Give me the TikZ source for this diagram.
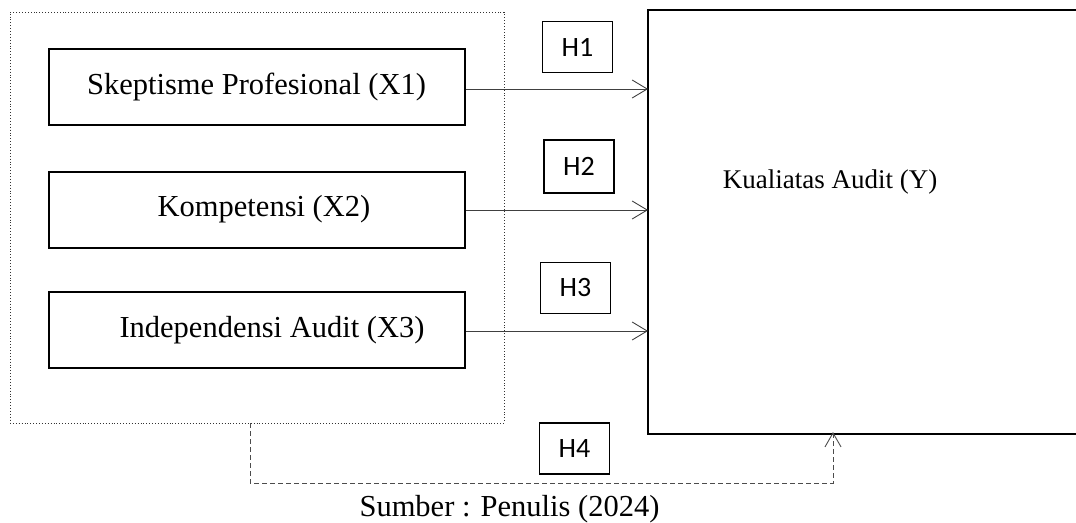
\documentclass[tikz,border=0pt]{standalone}
\usepackage{fontspec}
\setmainfont{Liberation Serif}
\newfontfamily\hfont{Carlito}
\usetikzlibrary{arrows.meta,positioning}

\tikzset{
  varbox/.style={draw, line width=2pt, minimum width=416pt, minimum height=76pt, inner sep=0pt, font=\fontsize{30.5}{36}\selectfont},
  hypbox/.style={draw, line width=1.8pt, minimum width=70pt, minimum height=51pt, inner sep=0pt, font=\hfont\fontsize{28}{32}\selectfont},
  link/.style={draw=black!75, line width=0.9pt, -{Straight Barb[length=15pt,width=18pt,line width=0.9pt]}},
  dlink/.style={draw=black!70, line width=0.9pt, dash pattern=on 5pt off 3pt, -{Straight Barb[length=14pt,width=16pt,line width=0.9pt]}}
}

\begin{document}
\begin{tikzpicture}[x=1pt,y=-1pt]
  \useasboundingbox (0,0) rectangle (1076,522);

  % Variabel independen
  \node[draw=black!80, line width=0.9pt, dotted, minimum width=494pt, minimum height=411pt, inner sep=0pt] (grp) at (257,217.5) {};
  \node[varbox] (x1) at (256.5,87) {Skeptisme Profesional (X1)};
  \node[varbox] (x2) at (257,209.5) {\hspace{14pt}Kompetensi (X2)};
  \node[varbox] (x3) at (257,330) {\hspace{30pt}Independensi Audit (X3)};

  % Variabel dependen
  \coordinate (ynw) at (648,10);
  \coordinate (ysw) at (648,434);
  \draw[line width=2.4pt] (1090,10) -- (ynw) -- (ysw) -- (1090,434);
  \node[font=\fontsize{27}{32}\selectfont, anchor=base] (y) at (830,188) {Kualiatas Audit (Y)};

  % Hipotesis
  \node[hypbox] (h1) at (577.5,47) {H1};
  \node[hypbox, minimum height=53pt] (h2) at (579,166.5) {H2};
  \node[hypbox] (h3) at (575.5,288) {H3};
  \node[hypbox] (h4) at (574.5,448.5) {H4};

  \draw[link] (x1.east |- 0,89) -- (ynw |- 0,89);
  \draw[link] (x2.east |- 0,210) -- (ynw |- 0,210);
  \draw[link] (x3.east |- 0,331) -- (ynw |- 0,331);
  \draw[dlink] ([xshift=-7pt]grp.south) |- (833,483) -- ([xshift=185pt,yshift=2pt]ysw);

  \node[font=\fontsize{30.5}{36}\selectfont, anchor=base] (src) at (509.5,516) {Sumber : Penulis (2024)};
\end{tikzpicture}
\end{document}
